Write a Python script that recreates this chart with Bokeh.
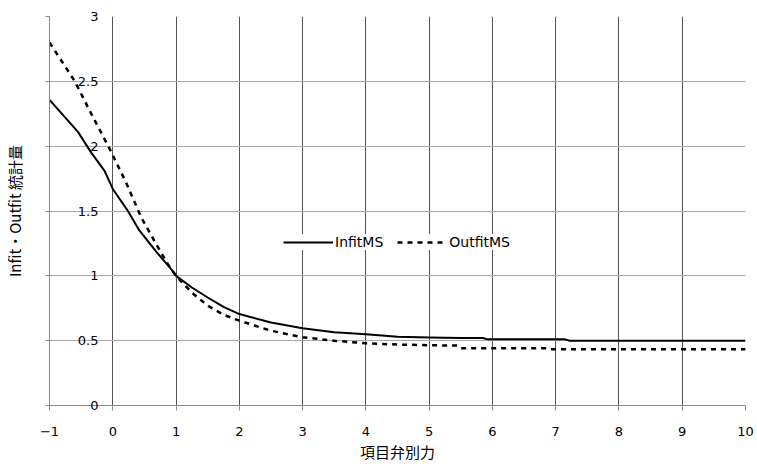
from bokeh.plotting import figure
from bokeh.models import FixedTicker, Legend, LegendItem, Range1d
from bokeh.embed import file_html
from bokeh.resources import INLINE

# ---- data ----
infit_x = [-1, -0.55, -0.34, -0.13, 0, 0.24, 0.42, 0.68, 0.9, 1, 1.25, 1.5, 1.75, 2, 2.5, 3,
           3.5, 4, 4.5, 5, 5.5, 5.85, 5.92, 7.15, 7.22, 10]
infit_y = [2.357, 2.11, 1.95, 1.81, 1.67, 1.50, 1.35, 1.19, 1.065, 1.0, 0.91, 0.833, 0.76, 0.705,
           0.64, 0.595, 0.565, 0.55, 0.53, 0.525, 0.52, 0.52, 0.51, 0.51, 0.50, 0.50]
outfit_x = [-1, -0.6, -0.34, -0.05, 0.21, 0.45, 0.68, 0.87, 1, 1.25, 1.5, 1.75, 2, 2.5, 3,
            3.5, 4, 4.5, 5, 5.45, 5.5, 6.85, 6.9, 10]
outfit_y = [2.80, 2.5, 2.25, 1.98, 1.72, 1.45, 1.25, 1.09, 1.0, 0.87, 0.77, 0.70, 0.654, 0.577,
            0.526, 0.50, 0.48, 0.47, 0.465, 0.462, 0.442, 0.442, 0.434, 0.434]
x_ticks = [-1, 0, 1, 2, 3, 4, 5, 6, 7, 8, 9, 10]
x_tick_labels = ["\u22121", "0", "1", "2", "3", "4", "5", "6", "7", "8", "9", "10"]
y_ticks = [0, 0.5, 1, 1.5, 2, 2.5, 3]
y_tick_labels = ["0", "0.5", "1", "1.5", "2", "2.5", "3"]
series_names = ["InfitMS", "OutfitMS"]
x_title = "項目弁別力"
y_title = "Infit・Outfit 統計量"

NUM_FONT = "DejaVu Sans"
JP_FONT = "Noto Sans CJK JP"

p = figure(width=757, height=464, output_backend="svg", toolbar_location=None,
           x_range=Range1d(-1, 10), y_range=Range1d(0, 3),
           min_border_left=48, min_border_right=12, min_border_top=16, min_border_bottom=59)
p.background_fill_color = "white"
p.border_fill_color = "white"
p.outline_line_color = None

# grids
p.xgrid.ticker = FixedTicker(ticks=x_ticks)
p.ygrid.ticker = FixedTicker(ticks=y_ticks)
p.xgrid.grid_line_color = "#555555"
p.ygrid.grid_line_color = "#a8a8a8"

# x axis
xa = p.xaxis[0]
xa.ticker = FixedTicker(ticks=x_ticks)
xa.major_label_overrides = {t: l for t, l in zip(x_ticks, x_tick_labels)}
xa.axis_line_color = "#888888"
xa.major_tick_line_color = "#888888"
xa.major_tick_out = 5
xa.major_tick_in = 0
xa.minor_tick_line_color = None
xa.major_label_standoff = 16
xa.major_label_text_font = NUM_FONT
xa.major_label_text_font_size = "13px"
xa.major_label_text_color = "black"
xa.axis_label = x_title
xa.axis_label_text_font = JP_FONT
xa.axis_label_text_font_size = "15px"
xa.axis_label_text_font_style = "normal"
xa.axis_label_text_color = "black"
xa.axis_label_standoff = 2

# y axis: tick values pushed inside the plot area, as in the reference
ya = p.yaxis[0]
ya.ticker = FixedTicker(ticks=y_ticks)
ya.major_label_overrides = {t: l for t, l in zip(y_ticks, y_tick_labels)}
ya.axis_line_color = "#888888"
ya.major_tick_line_color = "#888888"
ya.major_tick_out = 4
ya.major_tick_in = 0
ya.minor_tick_line_color = None
ya.major_label_standoff = -53
ya.major_label_text_font = NUM_FONT
ya.major_label_text_font_size = "13px"
ya.major_label_text_color = "black"
ya.axis_label = y_title
ya.axis_label_text_font = JP_FONT
ya.axis_label_text_font_size = "15px"
ya.axis_label_text_font_style = "normal"
ya.axis_label_text_color = "black"
ya.axis_label_standoff = 50

r1 = p.line(infit_x, infit_y, line_color="black", line_width=2)
r2 = p.line(outfit_x, outfit_y, line_color="black", line_width=2.5, line_dash="5 5")

legend = Legend(items=[LegendItem(label=series_names[0], renderers=[r1]),
                       LegendItem(label=series_names[1], renderers=[r2])],
                orientation="horizontal", location=(234, 155),
                background_fill_color="white", background_fill_alpha=1.0,
                border_line_color=None, glyph_width=50, glyph_height=14,
                label_standoff=2, spacing=14, padding=1, margin=0,
                label_text_font=NUM_FONT, label_text_font_size="14px",
                label_text_color="black", label_height=14)
p.add_layout(legend)

open("out.html", "w").write(file_html(p, INLINE))
